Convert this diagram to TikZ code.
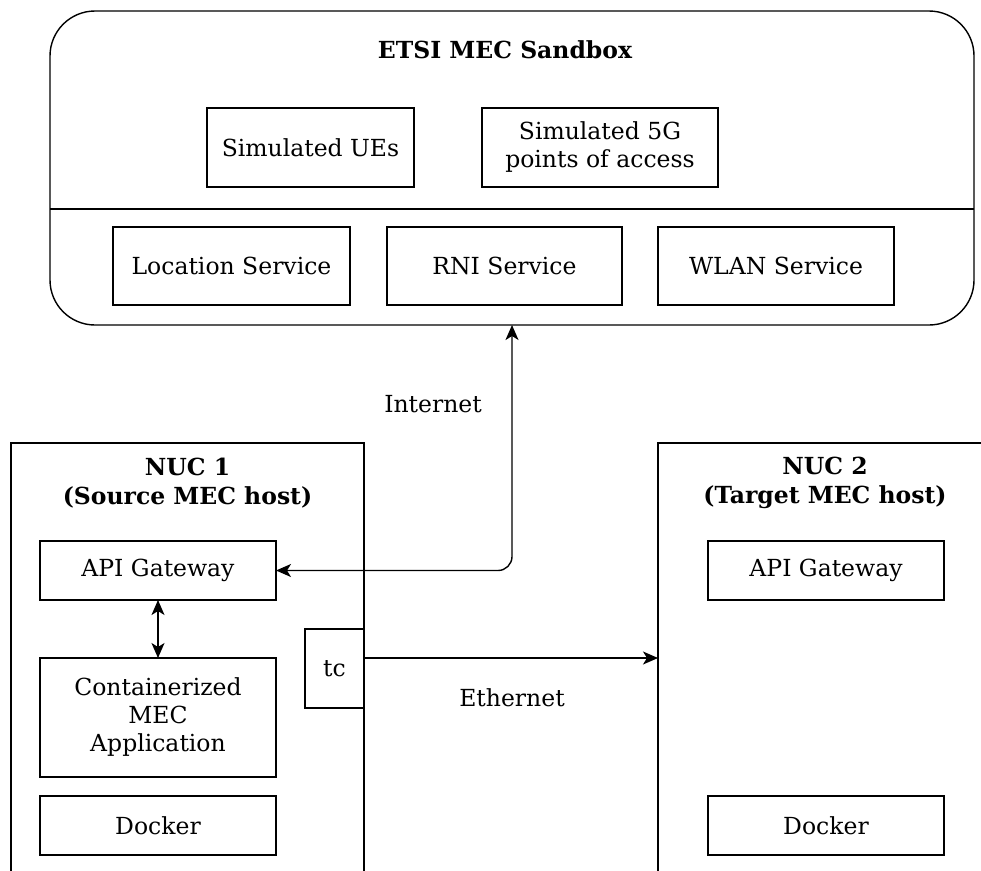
\documentclass[tikz,border=0pt]{standalone}
\usepackage{fontspec}
\setmainfont{DejaVu Serif}
\usetikzlibrary{arrows.meta}
\begin{document}
\begin{tikzpicture}[x=1pt,y=-1pt,
  every node/.style={inner sep=0pt,outer sep=0pt},
  txt/.style={font=\fontsize{23.5}{28}\selectfont, align=center},
  ttl/.style={font=\fontsize{23.5}{29}\selectfont\bfseries, align=center},
  boxn/.style={draw, line width=1.4pt, txt},
  tip/.tip={Stealth[length=15pt,width=13pt,inset=4pt]},
  conn/.style={line width=1.4pt, -tip},
  conn2/.style={line width=1.4pt, tip-tip}
]
\useasboundingbox (0,0) rectangle (981,870);
\clip (0,0) rectangle (981,870);
\fill[white] (0,0) rectangle (981,870);

% Sandbox
\node[draw, line width=1.4pt, rounded corners=45pt, minimum width=924pt, minimum height=314pt] (sb) at (512,168) {};
\node[ttl] (sbt) at (505,50) {ETSI MEC Sandbox};
\draw[line width=1.4pt] (sb.west |- 0,209) -- (sb.east |- 0,209);
\node[boxn, minimum width=207pt, minimum height=79pt] (ues) at (310.5,147.5) {Simulated UEs};
\node[boxn, minimum width=236pt, minimum height=79pt] (poa) at (600,147.5) {Simulated 5G\\points of access};
\node[boxn, minimum width=237pt, minimum height=78pt] (loc) at (231.5,266) {Location Service};
\node[boxn, minimum width=235pt, minimum height=78pt] (rni) at (504.5,266) {RNI Service};
\node[boxn, minimum width=236pt, minimum height=78pt] (wlan) at (776,266) {WLAN Service};

% NUC 1
\node[draw, line width=1.4pt, minimum width=353pt, minimum height=480pt] (nuc1) at (187.5,683) {};
\node[ttl] (nuc1t) at (187.5,483) {NUC 1\\(Source MEC host)};
\node[boxn, minimum width=236pt, minimum height=59pt] (api1) at (158,570.5) {API Gateway};
\node[boxn, minimum width=236pt, minimum height=119pt] (app) at (158,717.5) {Containerized\\MEC\\Application};
\node[boxn, minimum width=236pt, minimum height=59pt] (dock1) at (158,825.5) {Docker};
\node[boxn, minimum width=59pt, minimum height=79pt] (tc) at (334.5,668.5) {tc};

% NUC 2
\node[draw, line width=1.4pt, minimum width=400pt, minimum height=480pt] (nuc2) at (858,683) {};
\node[ttl] (nuc2t) at (825,483) {NUC 2\\(Target MEC host)};
\node[boxn, minimum width=236pt, minimum height=59pt] (api2) at (826,570.5) {API Gateway};
\node[boxn, minimum width=236pt, minimum height=59pt] (dock2) at (826,825.5) {Docker};

% connectors
\draw[conn2] (api1.south) -- (app.north);
\draw[conn2, rounded corners=14pt] (api1.east) -| (sb.south);
\node[txt] (inet) at (433,404) {Internet};
\coordinate (ethy) at (0,658);
\draw[conn] (tc.east |- ethy) -- (nuc2.west |- ethy);
\node[txt] (eth) at (512,698) {Ethernet};
\end{tikzpicture}
\end{document}
